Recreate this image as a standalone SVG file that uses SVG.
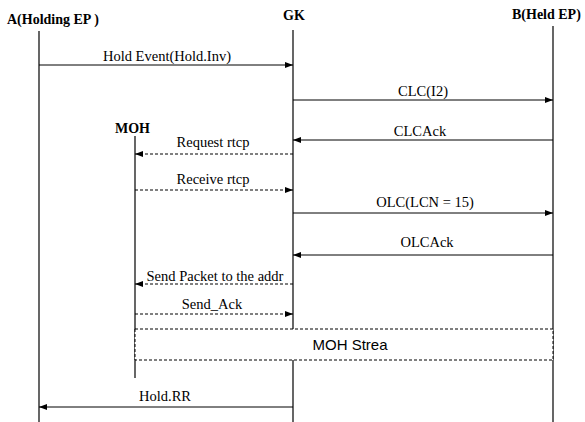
<svg xmlns="http://www.w3.org/2000/svg" width="585" height="422" viewBox="0 0 585 422">
<style>
.life{stroke:#000;stroke-width:1.2;fill:none}
.msg{stroke:#000;stroke-width:1;fill:none}
.dash{stroke-dasharray:3,2}
.hdr{font-family:"Liberation Serif",serif;font-weight:bold;font-size:14px;fill:#000}
.lbl{font-family:"Liberation Serif",serif;font-size:14.5px;fill:#000;text-anchor:middle}
.sans{font-family:"Liberation Sans",sans-serif;font-size:15px;fill:#000;text-anchor:middle}
</style>
<defs>
<marker id="ah" viewBox="0 0 8 6" refX="8" refY="3" markerWidth="8" markerHeight="6" markerUnits="userSpaceOnUse" orient="auto">
<path d="M0,0 L8,3 L0,6 z" fill="#000"/>
</marker>
</defs>
<rect width="585" height="422" fill="#fff"/>
<g id="A">
<text class="hdr" x="7" y="24">A(Holding EP )</text>
<line class="life" x1="39" y1="31" x2="39" y2="422"/>
</g>
<g id="GK">
<text class="hdr" x="283" y="20">GK</text>
<line class="life" x1="293" y1="30" x2="293" y2="422"/>
</g>
<g id="B">
<text class="hdr" x="512" y="19">B(Held EP)</text>
<line class="life" x1="553" y1="26" x2="553" y2="422"/>
</g>
<g id="MOH">
<text class="hdr" x="115" y="133">MOH</text>
<line class="life" x1="135" y1="136" x2="135" y2="378"/>
</g>
<g id="MOHStream">
<rect x="135" y="329" width="418" height="31" fill="#fff" stroke="#000" stroke-width="1" stroke-dasharray="3,2"/>
<text class="sans" x="350" y="350">MOH Strea</text>
</g>
<g id="connectors">
<line class="msg" x1="39" y1="65" x2="293" y2="65" marker-end="url(#ah)"/>
<text class="lbl" x="167" y="61">Hold Event(Hold.Inv)</text>
<line class="msg" x1="293" y1="100" x2="553" y2="100" marker-end="url(#ah)"/>
<text class="lbl" x="423" y="96">CLC(I2)</text>
<line class="msg" x1="553" y1="140" x2="293" y2="140" marker-end="url(#ah)"/>
<text class="lbl" x="420" y="136">CLCAck</text>
<line class="msg dash" x1="293" y1="154" x2="135" y2="154" marker-end="url(#ah)"/>
<text class="lbl" x="213" y="147">Request rtcp</text>
<line class="msg dash" x1="135" y1="190" x2="293" y2="190" marker-end="url(#ah)"/>
<text class="lbl" x="213" y="184">Receive rtcp</text>
<line class="msg" x1="293" y1="213" x2="553" y2="213" marker-end="url(#ah)"/>
<text class="lbl" x="425" y="207">OLC(LCN = 15)</text>
<line class="msg" x1="553" y1="255" x2="293" y2="255" marker-end="url(#ah)"/>
<text class="lbl" x="427" y="247">OLCAck</text>
<line class="msg dash" x1="293" y1="284" x2="135" y2="284" marker-end="url(#ah)"/>
<text class="lbl" x="215" y="281">Send Packet to the addr</text>
<line class="msg dash" x1="135" y1="314" x2="293" y2="314" marker-end="url(#ah)"/>
<text class="lbl" x="212" y="309">Send_Ack</text>
<line class="msg" x1="293" y1="407" x2="39" y2="407" marker-end="url(#ah)"/>
<text class="lbl" x="165" y="401">Hold.RR</text>
</g>
</svg>
